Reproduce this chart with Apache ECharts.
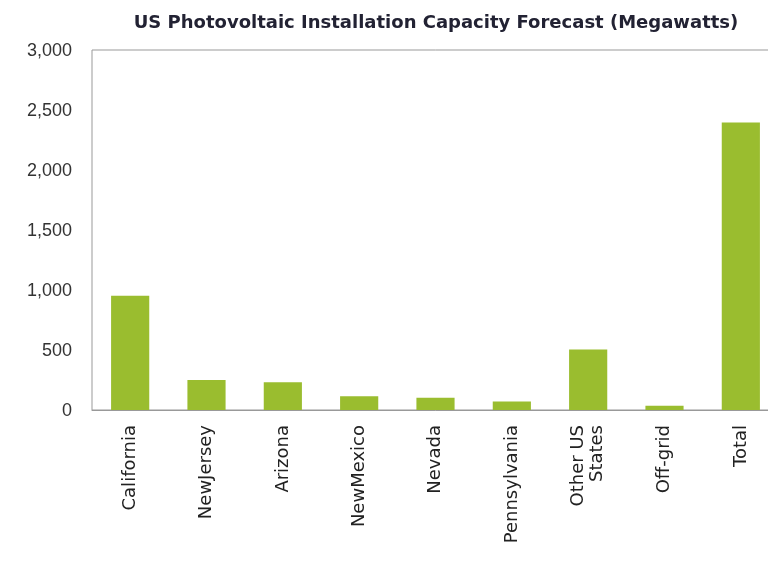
<!DOCTYPE html>
<html>
<head>
<meta charset="utf-8">
<script src="https://cdn.jsdelivr.net/npm/echarts@6/dist/echarts.min.js"></script>
<style>html,body{margin:0;padding:0;background:#fff;overflow:hidden}#c{width:780px;height:567px}</style>
</head>
<body>
<div id="c"></div>
<script>
const titleText = 'US Photovoltaic Installation Capacity Forecast (Megawatts)';
const categories = ['California', 'NewJersey', 'Arizona', 'NewMexico', 'Nevada', 'Pennsylvania', 'Other US\nStates', 'Off-grid', 'Total'];
const capacityMW = [952, 250, 232, 115, 103, 70, 505, 36, 2395];

const chart = echarts.init(document.getElementById('c'));
chart.setOption({
  backgroundColor: '#fff',
  animation: false,
  title: {
    text: titleText,
    left: 431, top: 9, textAlign: 'center',
    textStyle: { fontFamily: 'DejaVu Sans', fontSize: 18, fontWeight: 'bold', color: '#222233' }
  },
  grid: { left: 92, top: 50, right: 1, bottom: 157, show: true, borderColor: '#999', borderWidth: 1 },
  xAxis: {
    type: 'category', data: categories,
    axisLine: { show: true, lineStyle: { color: '#999', width: 1 } },
    axisTick: { show: false },
    axisLabel: { rotate: 90, margin: 15, fontFamily: 'DejaVu Sans', fontSize: 18, color: '#222', lineHeight: 19, interval: 0 }
  },
  yAxis: {
    type: 'value', min: 0, max: 3000, interval: 500,
    axisLine: { show: false }, axisTick: { show: false }, splitLine: { show: false },
    axisLabel: { margin: 20, fontFamily: 'Liberation Sans', fontSize: 18, color: '#333', verticalAlign: 'top', padding: [-8, 0, 0, 0],
      formatter: v => v.toLocaleString('en-US') }
  },
  series: [{
    type: 'bar', data: capacityMW, barWidth: '50%',
    itemStyle: { color: '#9abd2f' }
  }]
});
</script>
</body>
</html>
